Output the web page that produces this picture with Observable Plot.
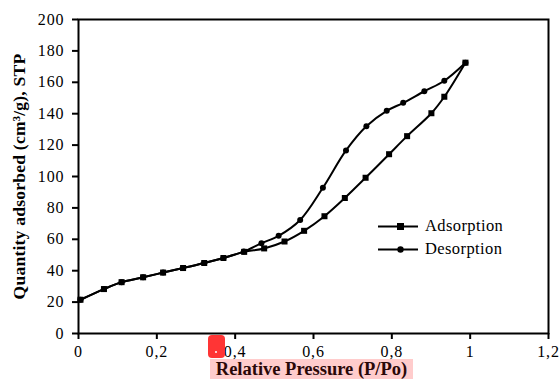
<!DOCTYPE html>
<html>
<head>
<meta charset="utf-8">
<script src="https://cdn.jsdelivr.net/npm/d3@7"></script>
<script src="https://cdn.jsdelivr.net/npm/@observablehq/plot@0.6"></script>
<style>
  html, body { margin: 0; padding: 0; background: #fff; }
  #wrap { position: relative; width: 559px; height: 379px; font-family: "Liberation Serif", "Times New Roman", serif; }
  #wrap > svg { display: block; }
  g[aria-label="y-axis label"] text { font-weight: bold; font-size: 17.6px; letter-spacing: 0.2px; }
  g[aria-label="x-axis tick label"] text, g[aria-label="y-axis tick label"] text { letter-spacing: 0.9px; }
  #xlabel { position: absolute; left: 210px; top: 359px; width: 203px; height: 20px; background: rgba(255, 120, 120, 0.38);
            font-weight: bold; font-size: 18.5px; line-height: 20px; color: #2a0808; text-align: center; white-space: nowrap; }
  #marker { position: absolute; left: 208px; top: 335px; width: 17px; height: 23px; background: #ff3535; border-radius: 4px; }
  #marker::after { content: ""; position: absolute; left: 7px; top: 16px; width: 2px; height: 2px; background: #fff; border-radius: 1px; }
  .leg { position: absolute; left: 378px; height: 18px; font-size: 16.5px; line-height: 18px; white-space: nowrap; letter-spacing: 0.4px; display: flex; align-items: center; }
  .leg svg { display: block; margin-right: 7px; flex: none; }
</style>
</head>
<body>
<div id="wrap"></div>
<script>
// Adsorption branch (lower curve, square markers)
const adsP = [0.005, 0.065, 0.110, 0.165, 0.216, 0.267, 0.321, 0.370, 0.423, 0.474, 0.526, 0.576, 0.628, 0.680, 0.733, 0.793, 0.839, 0.901, 0.934, 0.988];
const adsQ = [21.5, 28.3, 32.7, 35.8, 38.8, 41.7, 44.9, 48.1, 52.0, 54.2, 58.6, 65.4, 74.7, 86.3, 99.2, 114.2, 125.7, 140.3, 150.8, 172.5];
// Desorption branch (upper curve, circle markers)
const desP = [0.988, 0.934, 0.883, 0.829, 0.787, 0.735, 0.683, 0.624, 0.566, 0.511, 0.467, 0.422, 0.370, 0.321, 0.267, 0.216, 0.165, 0.110, 0.065, 0.005];
const desQ = [172.5, 161.0, 154.3, 146.9, 141.8, 132.0, 116.6, 92.8, 72.3, 62.2, 57.5, 52.2, 48.1, 44.9, 41.7, 38.8, 35.8, 32.7, 28.3, 21.5];

const xTicks = [0, 0.2, 0.4, 0.6, 0.8, 1, 1.2];
const yTicks = [0, 20, 40, 60, 80, 100, 120, 140, 160, 180, 200];
const seriesNames = ["Adsorption", "Desorption"];
const xTitle = "Relative Pressure (P/Po)";
const yTitle = "Quantity adsorbed (cm³/g), STP";

const ads = adsP.map((p, i) => ({p, q: adsQ[i]}));
const des = desP.map((p, i) => ({p, q: desQ[i]}));
const fmt = d => String(d).replace(".", ",");

const chart = Plot.plot({
  width: 559,
  height: 379,
  marginLeft: 78,
  marginRight: 11,
  marginTop: 19,
  marginBottom: 46,
  style: {fontFamily: "'Liberation Serif', 'Times New Roman', serif", fontSize: "16px", color: "#000", background: "#fff", overflow: "visible"},
  x: {domain: [0, 1.2]},
  y: {domain: [0, 200]},
  marks: [
    Plot.frame({stroke: "#000", strokeWidth: 2}),
    Plot.axisX({ticks: xTicks, tickFormat: fmt, tickSize: 6, tickPadding: 6, strokeWidth: 2, label: null}),
    Plot.axisY({ticks: yTicks, tickSize: 6, tickPadding: 8, strokeWidth: 2, label: yTitle, labelAnchor: "center", labelOffset: 66, labelArrow: false}),
    Plot.line(ads, {x: "p", y: "q", curve: "catmull-rom", stroke: "#000", strokeWidth: 2}),
    Plot.line(des, {x: "p", y: "q", curve: "catmull-rom", stroke: "#000", strokeWidth: 2}),
    Plot.dot(ads, {x: "p", y: "q", symbol: "square", r: 3.4, fill: "#000", stroke: null}),
    Plot.dot(des, {x: "p", y: "q", symbol: "circle", r: 3, fill: "#000", stroke: null})
  ]
});

const wrap = document.getElementById("wrap");
wrap.appendChild(chart);

// legend
const legTops = [217, 240];
seriesNames.forEach((name, i) => {
  const d = document.createElement("div");
  d.className = "leg";
  d.style.top = legTops[i] + "px";
  const marker = i === 0
    ? '<rect x="19" y="3" width="7" height="7" fill="#000"/>'
    : '<circle cx="22.5" cy="6.5" r="3.2" fill="#000"/>';
  d.innerHTML = '<svg width="40" height="13"><line x1="0" x2="40" y1="6.5" y2="6.5" stroke="#000" stroke-width="2"/>' + marker + '</svg><span>' + name + '</span>';
  wrap.appendChild(d);
});

// x-axis title (highlighted) and red annotation marker
const xl = document.createElement("div");
xl.id = "xlabel";
xl.textContent = xTitle;
wrap.appendChild(xl);
const mk = document.createElement("div");
mk.id = "marker";
wrap.appendChild(mk);
</script>
</body>
</html>
